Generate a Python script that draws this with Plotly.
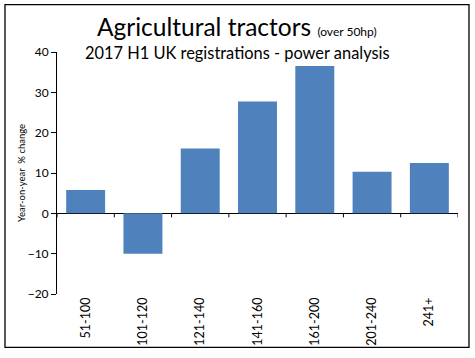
import plotly.graph_objects as go

categories = ["51-100", "101-120", "121-140", "141-160", "161-200", "201-240", "241+"]
values = [5.8, -10.0, 16.1, 27.7, 36.5, 10.3, 12.5]
y_ticks = [-20, -10, 0, 10, 20, 30, 40]

FONT = "Lato"

fig = go.Figure()
fig.add_trace(go.Bar(
    x=list(range(len(categories))), y=values,
    marker=dict(color="#4F81BD", line=dict(width=0)),
    width=0.68,
))

shapes = []
# tick marks at category boundaries on the zero line
for i in range(len(categories) + 1):
    shapes.append(dict(type="line", xref="x", yref="y", x0=i - 0.5, x1=i - 0.5,
                       y0=0, y1=-1.0, line=dict(color="black", width=1)))
# chart border
shapes.append(dict(type="rect", xref="paper", yref="paper",
                   x0=-0.1297, x1=1.0274, y0=-0.2204, y1=1.196,
                   line=dict(color="black", width=1.3)))

fig.update_layout(
    width=475, height=358,
    margin=dict(l=57, r=17, t=52, b=61),
    paper_bgcolor="white", plot_bgcolor="white",
    showlegend=False,
    font=dict(family=FONT, color="black"),
    shapes=shapes,
    annotations=[
        dict(text="Agricultural tractors <span style='font-size:12px'>(over 50hp)</span>",
             xref="paper", yref="paper", x=0.45, y=1.106, xanchor="center", yanchor="middle",
             showarrow=False, font=dict(size=24.5, family=FONT)),
        dict(text="2017 H1 UK registrations - power analysis",
             xref="paper", yref="paper", x=0.45, y=1.0, xanchor="center", yanchor="middle",
             showarrow=False, font=dict(size=16.4, family=FONT)),
        dict(text="Year-on-year  % change", textangle=-90,
             xref="paper", yref="paper", x=-0.09, y=0.5, xanchor="center", yanchor="middle",
             showarrow=False, font=dict(size=9.5, family=FONT)),
    ],
)
fig.update_xaxes(
    tickmode="array", tickvals=list(range(len(categories))), ticktext=categories,
    tickangle=-90, range=[-0.5, 6.5], showline=False, ticks="",
    tickfont=dict(size=12.5, family=FONT), showgrid=False, zeroline=False,
)
fig.update_yaxes(
    range=[-20, 40], tickvals=y_ticks, showline=True, linecolor="black", linewidth=1,
    ticks="outside", ticklen=5, tickcolor="black", showgrid=False,
    zeroline=True, zerolinecolor="black", zerolinewidth=1,
    tickfont=dict(size=12, family=FONT),
)

fig.write_html("out.html", config={"displayModeBar": False},
               post_script="document.body.style.margin='0';")
